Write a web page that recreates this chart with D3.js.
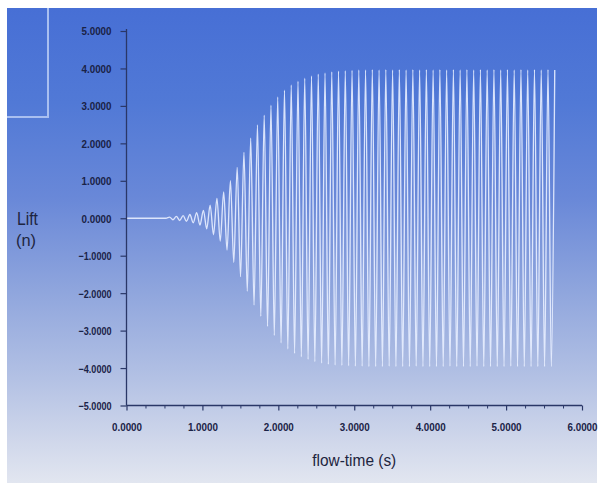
<!DOCTYPE html>
<html><head><meta charset="utf-8">
<script src="https://cdn.jsdelivr.net/npm/d3@7"></script>
<style>html,body{margin:0;padding:0;background:#fff;}svg{display:block;}</style>
</head><body>
<svg id="chart" width="600" height="483"></svg>
<script>
// ---- data ----
const xTickValues = [0, 1, 2, 3, 4, 5, 6];
const yTickValues = [5, 4, 3, 2, 1, 0, -1, -2, -3, -4, -5];
const xTitle = "flow-time (s)";
const yTitleLines = ["Lift", "(n)"];

// successive extremes of the lift signal (time in s)
const flowTime = [
  0.000, 0.520,
  0.568,0.612, 0.657,0.701, 0.746,0.790, 0.835,0.879, 0.924,0.968,
  1.013,1.057, 1.102,1.146, 1.191,1.235, 1.280,1.324, 1.369,1.413,
  1.458,1.502, 1.547,1.591, 1.636,1.680, 1.725,1.769, 1.814,1.858,
  1.903,1.947, 1.992,2.036, 2.081,2.125, 2.170,2.214, 2.259,2.303,
  2.348,2.392, 2.437,2.481, 2.526,2.570, 2.615,2.659, 2.704,2.748,
  2.793,2.837, 2.882,2.926, 2.971,3.015, 3.060,3.104, 3.149,3.193,
  3.238,3.282, 3.327,3.371, 3.416,3.460, 3.505,3.549, 3.594,3.638,
  3.683,3.727, 3.772,3.816, 3.861,3.905, 3.950,3.994, 4.039,4.083,
  4.128,4.172, 4.217,4.261, 4.306,4.350, 4.395,4.439, 4.484,4.528,
  4.573,4.617, 4.662,4.706, 4.751,4.795, 4.840,4.884, 4.929,4.973,
  5.018,5.062, 5.107,5.151, 5.196,5.240, 5.285,5.329, 5.374,5.418,
  5.463,5.507, 5.552,5.596, 5.641
];
const lift = [
  0.00, 0.00,
  0.03,-0.04, 0.05,-0.06, 0.07,-0.08, 0.10,-0.12, 0.15,-0.18,
  0.21,-0.28, 0.35,-0.44, 0.53,-0.61, 0.70,-0.85, 1.00,-1.18,
  1.36,-1.56, 1.76,-1.95, 2.14,-2.32, 2.49,-2.62, 2.75,-2.89,
  3.02,-3.13, 3.24,-3.33, 3.42,-3.49, 3.56,-3.61, 3.66,-3.70,
  3.74,-3.77, 3.80,-3.83, 3.85,-3.87, 3.88,-3.90, 3.91,-3.92,
  3.93,-3.93, 3.94,-3.94, 3.95,-3.95, 3.96,-3.95, 3.96,-3.96,
  3.97,-3.96, 3.96,-3.96, 3.97,-3.95, 3.96,-3.96, 3.97,-3.96,
  3.96,-3.96, 3.97,-3.95, 3.96,-3.96, 3.97,-3.96, 3.96,-3.96,
  3.97,-3.96, 3.96,-3.95, 3.97,-3.96, 3.96,-3.96, 3.97,-3.96,
  3.96,-3.95, 3.97,-3.96, 3.96,-3.96, 3.97,-3.96, 3.96,-3.96,
  3.97,-3.95, 3.96,-3.96, 3.97,-3.96, 3.96,-3.96, 3.97,-3.96,
  3.96,-3.96, 3.97,-3.96,
  3.96
];

// ---- drawing ----
const W = 600, H = 483;
const svg = d3.select("#chart");
const defs = svg.append("defs");
const grad = defs.append("linearGradient").attr("id", "bg")
  .attr("x1", 0).attr("y1", 0).attr("x2", 0).attr("y2", 1);
[[0, "#476fd5"], [0.2, "#5179d6"], [0.4, "#6988d8"], [0.6, "#90a6dd"],
 [0.78, "#b3c1e4"], [0.9, "#cdd5ea"], [1, "#e2e6f0"]]
  .forEach(([o, c]) => grad.append("stop").attr("offset", o).attr("stop-color", c));

svg.append("rect").attr("width", W).attr("height", H).attr("fill", "#ffffff");
svg.append("rect").attr("x", 7).attr("y", 8).attr("width", W - 10).attr("height", H - 8)
  .attr("fill", "url(#bg)");

// legend frame remnant (right and bottom edges only)
svg.append("path").attr("d", "M48,8V117H7")
  .attr("fill", "none").attr("stroke", "#a9bff0").attr("stroke-width", 2);

const margin = {left: 126.5, right: 582, top: 31, bottom: 405.5};
const x = d3.scaleLinear().domain([0, 6]).range([margin.left, margin.right]);
const y = d3.scaleLinear().domain([-5, 5]).range([margin.bottom, margin.top]);

const axisColor = "#2a3767";
const labelColor = "#1a2246";
const font = "'Liberation Sans', Arial, sans-serif";

// signal
const pts = flowTime.map((t, i) => [t, lift[i]]);
svg.append("path").datum(pts)
  .attr("fill", "none")
  .attr("stroke", "#e8eeff")
  .attr("stroke-opacity", 0.9)
  .attr("stroke-width", 1.35)
  .attr("d", d3.line().x(d => x(d[0])).y(d => y(d[1])).curve(d3.curveMonotoneX));

// y axis
const yAxis = svg.append("g").attr("transform", `translate(${margin.left},0)`)
  .call(d3.axisLeft(y).tickValues(yTickValues).tickSize(6).tickPadding(9)
    .tickFormat(d3.format(".4f")));
yAxis.select(".domain").attr("stroke", axisColor).attr("stroke-width", 1.3).attr("d", `M0,${margin.top - 2}V${margin.bottom}`);
yAxis.selectAll(".tick line").attr("stroke", axisColor).attr("stroke-width", 1.2);
yAxis.selectAll(".tick text").attr("fill", labelColor)
  .style("font-family", font)
  .style("font-size", "11px").style("font-weight", "bold").attr("dy", "0.36em")
  .attr("textLength", d => d < 0 ? 33 : 30).attr("lengthAdjust", "spacingAndGlyphs");

// x axis minor ticks
const xMinor = d3.range(0, 24).map(i => i * 0.25).filter(v => v % 1 !== 0);
svg.append("g").attr("transform", `translate(0,${margin.bottom})`)
  .call(d3.axisBottom(x).tickValues(xMinor).tickSize(3).tickFormat(""))
  .call(g => g.select(".domain").remove())
  .selectAll(".tick line").attr("stroke", axisColor).attr("stroke-width", 1);

const xAxis = svg.append("g").attr("transform", `translate(0,${margin.bottom})`)
  .call(d3.axisBottom(x).tickValues(xTickValues).tickSize(5).tickPadding(13)
    .tickFormat(d3.format(".4f")));
xAxis.select(".domain").attr("stroke", axisColor).attr("stroke-width", 1.3)
  .attr("d", `M${margin.left},0H${margin.right}`);
xAxis.selectAll(".tick line").attr("stroke", axisColor).attr("stroke-width", 1.2);
xAxis.selectAll(".tick text").attr("fill", labelColor)
  .style("font-family", font)
  .style("font-size", "11px").style("font-weight", "bold")
  .attr("textLength", 30).attr("lengthAdjust", "spacingAndGlyphs");

// titles
svg.append("text").attr("x", (margin.left + margin.right) / 2).attr("y", 466)
  .attr("text-anchor", "middle").attr("fill", "#1e2540")
  .style("font-family", font).style("font-size", "17px")
  .attr("textLength", 84).attr("lengthAdjust", "spacingAndGlyphs")
  .text(xTitle);

svg.append("text").attr("x", 17).attr("y", 225)
  .attr("fill", "#1e2540")
  .style("font-family", font).style("font-size", "18px")
  .attr("textLength", 21).attr("lengthAdjust", "spacingAndGlyphs")
  .text(yTitleLines[0]);
svg.append("text").attr("x", 16).attr("y", 246)
  .attr("fill", "#1e2540")
  .style("font-family", font).style("font-size", "17px")
  .attr("textLength", 20).attr("lengthAdjust", "spacingAndGlyphs")
  .text(yTitleLines[1]);
</script>
</body></html>
